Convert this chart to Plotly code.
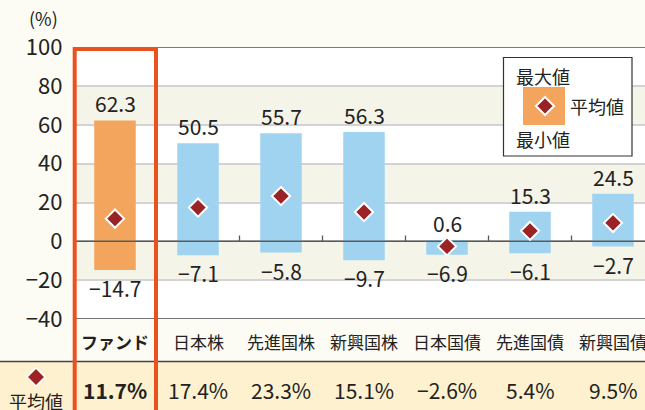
import plotly.graph_objects as go

categories = ["ファンド", "日本株", "先進国株", "新興国株", "日本国債", "先進国債", "新興国債"]
max_vals = [62.3, 50.5, 55.7, 56.3, 0.6, 15.3, 24.5]
min_vals = [-14.7, -7.1, -5.8, -9.7, -6.9, -6.1, -2.7]
avg_vals = [11.7, 17.4, 23.3, 15.1, -2.6, 5.4, 9.5]
y_ticks = [-40, -20, 0, 20, 40, 60, 80, 100]

W, H = 645, 410
FONT = "Noto Sans CJK JP"
PAGE_BG = "#fcfbf4"
BAND = "#f5f4e8"
ORANGE = "#f3a55d"
BLUE = "#9fd3f0"
DIAMOND = "#9b2326"
RED = "#e9521e"
ROW_BG = "#fef1cf"

def px_x(p):
    return p / W

def px_y(p):
    return (H - p) / H

def fmt(v):
    return f"{v:.1f}".replace("-", "\u2212")

x_left = 73.5
y_top = 47.2
y_bot = 319.0
dx = 83.0
n = len(categories)
x_max = -0.5 + (W - x_left) / dx

idx = list(range(n))
colors = [ORANGE] + [BLUE] * (n - 1)

fig = go.Figure()
fig.add_trace(go.Bar(
    x=idx, y=[mx - mn for mx, mn in zip(max_vals, min_vals)], base=min_vals,
    marker=dict(color=colors, line=dict(width=0)), width=0.5,
    hoverinfo="skip", showlegend=False,
))
fig.add_trace(go.Scatter(
    x=[-0.5, n - 0.5], y=[0, 0], mode="lines",
    line=dict(color="#5a5a5a", width=1.5), hoverinfo="skip", showlegend=False,
))
fig.add_trace(go.Scatter(
    x=idx, y=avg_vals, mode="markers",
    marker=dict(symbol="diamond", size=14, color=DIAMOND, line=dict(color="white", width=2)),
    hoverinfo="skip", showlegend=False, cliponaxis=False,
))

shapes = []
for lo, hi in [(60, 80), (20, 40), (-20, 0)]:
    shapes.append(dict(type="rect", xref="paper", yref="y", x0=px_x(x_left), x1=1, y0=lo, y1=hi,
                       fillcolor=BAND, line=dict(width=0), layer="below"))
for i in range(n - 1):
    shapes.append(dict(type="line", xref="x", yref="y", x0=i + 0.5, x1=i + 0.5, y0=0, y1=3,
                       line=dict(color="#5a5a5a", width=1.3), layer="between"))
shapes.append(dict(type="line", xref="paper", yref="y", x0=px_x(x_left), x1=1, y0=100, y1=100,
                   line=dict(color="#111", width=1.3), layer="above"))
shapes.append(dict(type="line", xref="paper", yref="y", x0=px_x(x_left), x1=1, y0=-40, y1=-40,
                   line=dict(color="#444", width=1.3), layer="above"))
shapes.append(dict(type="rect", xref="paper", yref="paper", x0=0, x1=1, y0=-0.05, y1=px_y(361.5),
                   fillcolor=ROW_BG, line=dict(width=0), layer="above"))
shapes.append(dict(type="line", xref="paper", yref="paper", x0=0, x1=1, y0=px_y(361.5), y1=px_y(361.5),
                   line=dict(color="#444", width=1.3), layer="above"))
shapes.append(dict(type="rect", xref="paper", yref="paper", x0=px_x(74.7), x1=px_x(156), y0=-0.05, y1=px_y(49),
                   line=dict(color=RED, width=4), fillcolor="rgba(0,0,0,0)", layer="above"))
shapes.append(dict(type="rect", xref="paper", yref="paper", x0=px_x(503.5), x1=px_x(632), y0=px_y(156), y1=px_y(57.5),
                   line=dict(color="#333", width=1.2), fillcolor="white", layer="above"))
shapes.append(dict(type="rect", xref="paper", yref="paper", x0=px_x(523), x1=px_x(565), y0=px_y(125), y1=px_y(87),
                   line=dict(width=0), fillcolor=ORANGE, layer="above"))

def diamond_shape(cx, cy, r, border):
    return dict(type="path", xref="paper", yref="paper", xsizemode="pixel", ysizemode="pixel",
                xanchor=px_x(cx), yanchor=px_y(cy),
                path=f"M0,{r} L{r},0 L0,{-r} L{-r},0 Z",
                fillcolor=DIAMOND, line=dict(color="white", width=border), layer="above")

shapes.append(diamond_shape(545, 106, 9, 2))
shapes.append(diamond_shape(36, 377, 9, 1.5))

annotations = []
for i in idx:
    annotations.append(dict(x=i, y=max_vals[i], xref="x", yref="y", text=fmt(max_vals[i]),
                            showarrow=False, xanchor="center", yanchor="bottom", yshift=0,
                            font=dict(family=FONT, size=21, color="#222")))
    annotations.append(dict(x=i, y=min_vals[i], xref="x", yref="y", text=fmt(min_vals[i]),
                            showarrow=False, xanchor="center", yanchor="top", yshift=-1,
                            font=dict(family=FONT, size=21, color="#222")))
    cat = categories[i]
    t = fmt(avg_vals[i]) + "%"
    if i == 0:
        cat = "<b>" + cat + "</b>"
        t = "<b>" + t + "</b>"
    annotations.append(dict(x=i, y=px_y(341), xref="x", yref="paper", text=cat,
                            showarrow=False, xanchor="center", yanchor="middle",
                            font=dict(family=FONT, size=17, color="#222")))
    annotations.append(dict(x=i, y=px_y(390), xref="x", yref="paper", text=t,
                            showarrow=False, xanchor="center", yanchor="middle",
                            font=dict(family=FONT, size=21, color="#222")))

def paper_text(cx, cy, text, size):
    return dict(x=px_x(cx), y=px_y(cy), xref="paper", yref="paper", text=text, showarrow=False,
                xanchor="center", yanchor="middle", font=dict(family=FONT, size=size, color="#222"))

annotations += [
    paper_text(43, 18, "(%)", 18),
    paper_text(543, 76, "最大値", 18),
    paper_text(597, 106, "平均値", 18),
    paper_text(543, 139, "最小値", 18),
    paper_text(36, 401, "平均値", 18),
]

fig.update_layout(
    width=W, height=H,
    margin=dict(l=0, r=0, t=0, b=0, pad=0, autoexpand=False),
    paper_bgcolor=PAGE_BG, plot_bgcolor="white",
    shapes=shapes, annotations=annotations,
    bargap=0.5,
    xaxis=dict(domain=[px_x(x_left), 1], range=[-0.5, x_max], showgrid=False, zeroline=False,
               showticklabels=False, ticks="", showline=False, fixedrange=True, automargin=False),
    yaxis=dict(domain=[px_y(y_bot), px_y(y_top)], range=[-40, 100], tickvals=y_ticks,
               ticktext=[fmt(v).replace(".0", "") for v in y_ticks],
               showgrid=True, gridcolor="#d3d3d3", gridwidth=1.5, zeroline=False,
               ticks="", ticklabelstandoff=10, showline=False, automargin=False,
               tickfont=dict(family=FONT, size=22, color="#222"), fixedrange=True),
    font=dict(family=FONT),
)

fig.write_html(
    "out.html",
    config={"displayModeBar": False},
    post_script="document.body.style.margin='0';document.body.style.overflow='hidden';"
                "document.body.style.background='" + PAGE_BG + "';",
)
